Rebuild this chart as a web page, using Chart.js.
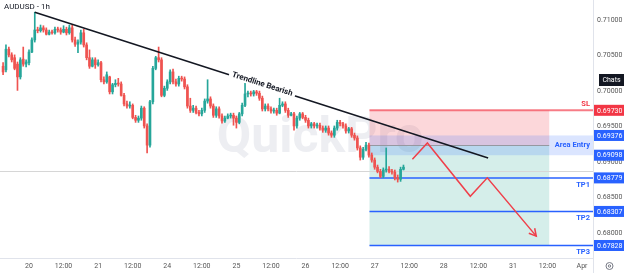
<!DOCTYPE html>
<html>
<head>
<meta charset="utf-8">
<script src="https://cdn.jsdelivr.net/npm/chart.js@4.4.1/dist/chart.umd.min.js"></script>
<style>
  html, body { margin: 0; padding: 0; background: #fff; overflow: hidden; }
  #wrap { width: 624px; height: 273px; }
</style>
</head>
<body>
<div id="wrap"><canvas id="c" width="624" height="273"></canvas></div>
<script>
// hourly candles, first one is 19th 15:00 (hour -9 from the 20th 00:00, weekend removed)
var firstHour = -9;
var opens = [
  0.7035,0.7030,0.7059,0.7051,0.7047,0.7038,0.7020,0.7045,0.7038,
  0.7040,0.7055,0.7072,0.7086,0.7085,0.7089,0.7086,0.7080,0.7083,0.7082,
  0.7087,0.7086,0.7083,0.7087,0.7082,0.7089,0.7072,0.7066,0.7069,0.7082,
  0.7065,0.7047,0.7035,0.7044,0.7037,0.7040,0.7016,0.7013,0.7020,0.6999,
  0.7009,0.7011,0.7010,0.6994,0.6982,0.6979,0.6980,0.6963,0.6959,0.6962,
  0.6976,0.6951,0.6924,0.6985,0.7032,0.7047,0.7044,0.6994,0.7004,0.7013,
  0.7027,0.7013,0.7010,0.7018,0.7017,0.7006,0.6979,0.6973,0.6976,0.6970,
  0.6968,0.6973,0.6986,0.6989,0.6979,0.6966,0.6975,0.6965,0.6958,0.6962,
  0.6965,0.6966,0.6962,0.6956,0.6968,0.6980,0.6996,0.6997,0.6996,0.6999,
  0.6997,0.6990,0.6975,0.6979,0.6975,0.6972,0.6973,0.6969,0.6980,0.6982,
  0.6973,0.6966,0.6968,0.6951,0.6962,0.6968,0.6963,0.6959,0.6951,0.6954,
  0.6951,0.6952,0.6948,0.6945,0.6948,0.6941,0.6938,0.6948,0.6956,0.6954,
  0.6951,0.6944,0.6947,0.6938,0.6934,0.6920,0.6907,0.6918,0.6924,0.6910,
  0.6903,0.6893,0.6887,0.6880,0.6889,0.6890,0.6887,0.6886,0.6878,0.6876,0.6890
];
var highs = [
  0.7040,0.7065,0.7062,0.7054,0.7051,0.7041,0.7047,0.7062,0.7044,
  0.7058,0.7075,0.7111,0.7090,0.7093,0.7092,0.7089,0.7086,0.7086,0.7090,
  0.7090,0.7089,0.7092,0.7090,0.7093,0.7093,0.7076,0.7072,0.7086,0.7087,
  0.7068,0.7058,0.7047,0.7047,0.7044,0.7042,0.7020,0.7027,0.7021,0.7011,
  0.7016,0.7018,0.7013,0.6997,0.6986,0.6985,0.6982,0.6966,0.6965,0.6979,
  0.6978,0.6954,0.6987,0.7035,0.7049,0.7062,0.7047,0.7007,0.7016,0.7030,
  0.7031,0.7017,0.7021,0.7021,0.7020,0.7009,0.6990,0.6980,0.6979,0.6973,
  0.6976,0.6989,0.7016,0.6992,0.6982,0.6978,0.6978,0.6968,0.6965,0.6968,
  0.6969,0.6969,0.6965,0.6970,0.6983,0.7011,0.7000,0.7000,0.7001,0.7001,
  0.7000,0.6993,0.6982,0.6982,0.6978,0.6976,0.6976,0.6990,0.6985,0.6985,
  0.6976,0.6970,0.6970,0.6965,0.6970,0.6970,0.6966,0.6962,0.6956,0.6956,
  0.6955,0.6955,0.6951,0.6951,0.6951,0.6944,0.6951,0.6959,0.6959,0.6956,
  0.6954,0.6949,0.6949,0.6941,0.6937,0.6923,0.6921,0.6928,0.6927,0.6913,
  0.6906,0.6896,0.6890,0.6892,0.6920,0.6894,0.6890,0.6889,0.6882,0.6893,0.6896
];
var lows = [
  0.7023,0.7027,0.7048,0.7041,0.7030,0.7001,0.7017,0.7035,0.7034,
  0.7037,0.7054,0.7069,0.7082,0.7083,0.7083,0.7079,0.7079,0.7080,0.7080,
  0.7083,0.7080,0.7082,0.7079,0.7080,0.7069,0.7063,0.7054,0.7066,0.7062,
  0.7044,0.7032,0.7034,0.7032,0.7035,0.7013,0.7010,0.7011,0.6996,0.6996,
  0.7006,0.7007,0.6993,0.6979,0.6976,0.6976,0.6961,0.6956,0.6956,0.6959,
  0.6948,0.6913,0.6921,0.6982,0.7030,0.7041,0.6992,0.6992,0.7001,0.7010,
  0.7010,0.7007,0.7007,0.7014,0.7003,0.6976,0.6970,0.6970,0.6968,0.6965,
  0.6965,0.6970,0.6983,0.6976,0.6963,0.6963,0.6962,0.6955,0.6956,0.6961,
  0.6962,0.6952,0.6948,0.6954,0.6965,0.6978,0.6992,0.6993,0.6993,0.6994,
  0.6987,0.6972,0.6972,0.6972,0.6969,0.6969,0.6966,0.6968,0.6978,0.6970,
  0.6963,0.6965,0.6945,0.6948,0.6959,0.6961,0.6956,0.6948,0.6948,0.6948,
  0.6948,0.6945,0.6942,0.6942,0.6938,0.6935,0.6935,0.6945,0.6951,0.6948,
  0.6941,0.6941,0.6935,0.6931,0.6917,0.6903,0.6904,0.6916,0.6907,0.6900,
  0.6890,0.6885,0.6878,0.6878,0.6886,0.6885,0.6883,0.6875,0.6872,0.6873,0.6889
];
var closes = [
  0.7027,0.7059,0.7051,0.7044,0.7032,0.7020,0.7044,0.7038,0.7041,
  0.7055,0.7072,0.7086,0.7085,0.7089,0.7086,0.7080,0.7083,0.7082,0.7087,
  0.7086,0.7083,0.7087,0.7082,0.7089,0.7072,0.7066,0.7069,0.7082,0.7065,
  0.7047,0.7035,0.7044,0.7037,0.7040,0.7016,0.7013,0.7023,0.6999,0.7009,
  0.7011,0.7010,0.6994,0.6982,0.6979,0.6980,0.6963,0.6959,0.6962,0.6976,
  0.6951,0.6924,0.6985,0.7032,0.7047,0.7044,0.6994,0.7004,0.7013,0.7027,
  0.7013,0.7010,0.7018,0.7017,0.7006,0.6979,0.6973,0.6976,0.6970,0.6968,
  0.6973,0.6986,0.6989,0.6979,0.6966,0.6975,0.6965,0.6958,0.6962,0.6965,
  0.6966,0.6962,0.6956,0.6968,0.6980,0.6996,0.6997,0.6996,0.6999,0.6997,
  0.6990,0.6975,0.6979,0.6975,0.6972,0.6973,0.6969,0.6980,0.6982,0.6973,
  0.6966,0.6968,0.6951,0.6962,0.6968,0.6963,0.6959,0.6951,0.6954,0.6951,
  0.6952,0.6948,0.6945,0.6948,0.6941,0.6938,0.6948,0.6956,0.6954,0.6951,
  0.6944,0.6947,0.6938,0.6934,0.6920,0.6907,0.6918,0.6924,0.6910,0.6903,
  0.6893,0.6887,0.6880,0.6889,0.6890,0.6887,0.6886,0.6878,0.6876,0.6890,0.6893
];

// x axis labels every 12 hours
var tickLabels = ['20','12:00','21','12:00','24','12:00','25','12:00','26','12:00','27','12:00','28','12:00','31','12:00','Apr'];

// drawings
var trendX = [2, 159.4];
var trendY = [0.7111, 0.6906];
var pathX = [133.1, 138.3, 153.2, 159.1, 176.1];
var pathY = [0.6904, 0.6927, 0.6852, 0.6878, 0.6796];

var SL = 0.69730;
var ENTRY = 0.6924;
var AREA_TOP = 0.69376;
var AREA_BOTTOM = 0.69098;
var TPS = [0.68779, 0.68307, 0.67828];
var PRICE_LINE = 0.68874;
var ZONE_START = 118.2;
var ZONE_END = 180.6;

var UP = '#26a69a', DOWN = '#ef5350';
var FONT = 'Roboto, "Liberation Sans", sans-serif';

var wicks = [], bodies = [], colors = [];
for (var k = 0; k < closes.length; k++) {
  wicks.push({ x: firstHour + k, y: [lows[k], highs[k]] });
  bodies.push({ x: firstHour + k, y: [opens[k], closes[k]] });
  colors.push(closes[k] >= opens[k] ? UP : DOWN);
}

function pts(xa, ya) {
  return xa.map(function (v, i) { return { x: v, y: ya[i] }; });
}

function noPad(s) {
  s.paddingTop = 0; s.paddingBottom = 0; s.paddingLeft = 0; s.paddingRight = 0;
}

var overlay = {
  id: 'overlay',
  beforeDatasetsDraw: function (chart) {
    var ctx = chart.ctx, xs = chart.scales.x, ys = chart.scales.y, a = chart.chartArea;
    ctx.save();
    // watermark
    ctx.font = 'bold 50px ' + FONT;
    ctx.fillStyle = 'rgba(190,195,210,0.28)';
    ctx.textAlign = 'center';
    ctx.textBaseline = 'middle';
    ctx.fillText('QuickPro', 320, 139);

    var x0 = xs.getPixelForValue(ZONE_START), x1 = xs.getPixelForValue(ZONE_END);
    var ySL = ys.getPixelForValue(SL), yE = ys.getPixelForValue(ENTRY);
    var yT3 = ys.getPixelForValue(TPS[2]);
    ctx.fillStyle = 'rgba(242,54,69,0.2)';
    ctx.fillRect(x0, ySL, x1 - x0, yE - ySL);
    ctx.fillStyle = 'rgba(8,153,129,0.17)';
    ctx.fillRect(x0, yE, x1 - x0, yT3 - yE);
    var yAT = ys.getPixelForValue(AREA_TOP), yAB = ys.getPixelForValue(AREA_BOTTOM);
    ctx.fillStyle = 'rgba(41,98,255,0.17)';
    ctx.fillRect(x0, yAT, a.right - x0, yAB - yAT);

    // current price line
    var yP = Math.round(ys.getPixelForValue(PRICE_LINE)) + 0.5;
    ctx.strokeStyle = '#d6d6d6';
    ctx.lineWidth = 1;
    ctx.beginPath(); ctx.moveTo(a.left, yP); ctx.lineTo(a.right, yP); ctx.stroke();

    // entry line
    ctx.strokeStyle = '#9598a1';
    ctx.beginPath(); ctx.moveTo(x0, Math.round(yE) + 0.5); ctx.lineTo(x1, Math.round(yE) + 0.5); ctx.stroke();

    // SL and TP lines
    ctx.strokeStyle = 'rgba(242,54,69,0.65)';
    ctx.lineWidth = 2;
    ctx.beginPath(); ctx.moveTo(x0, ySL); ctx.lineTo(a.right, ySL); ctx.stroke();
    ctx.strokeStyle = '#2962ff';
    ctx.lineWidth = 1.5;
    TPS.forEach(function (v) {
      var y = ys.getPixelForValue(v);
      ctx.beginPath(); ctx.moveTo(x0, y); ctx.lineTo(a.right, y); ctx.stroke();
    });
    ctx.restore();
  },
  afterDatasetsDraw: function (chart) {
    var ctx = chart.ctx, xs = chart.scales.x, ys = chart.scales.y;
    ctx.save();
    // trendline label
    var p0x = xs.getPixelForValue(trendX[0]), p0y = ys.getPixelForValue(trendY[0]);
    var p1x = xs.getPixelForValue(trendX[1]), p1y = ys.getPixelForValue(trendY[1]);
    var ang = Math.atan2(p1y - p0y, p1x - p0x);
    var t = (262 - p0x) / (p1x - p0x);
    ctx.translate(262, p0y + t * (p1y - p0y));
    ctx.rotate(ang);
    ctx.font = 'bold 8px ' + FONT;
    var w = ctx.measureText('Trendline Bearish').width;
    ctx.fillStyle = '#fff';
    ctx.fillRect(-w / 2 - 3, -3, w + 6, 6);
    ctx.fillStyle = '#131722';
    ctx.textAlign = 'center';
    ctx.textBaseline = 'bottom';
    ctx.fillText('Trendline Bearish', 0, 3);
    ctx.restore();

    // arrow head at the end of the projected path
    ctx.save();
    var n = pathX.length;
    var ex = xs.getPixelForValue(pathX[n - 1]), ey = ys.getPixelForValue(pathY[n - 1]);
    var bx = xs.getPixelForValue(pathX[n - 2]), by = ys.getPixelForValue(pathY[n - 2]);
    var aa = Math.atan2(ey - by, ex - bx);
    ctx.strokeStyle = '#ef3f4a';
    ctx.lineWidth = 1.5;
    ctx.beginPath();
    ctx.moveTo(ex - 8 * Math.cos(aa - 0.5), ey - 8 * Math.sin(aa - 0.5));
    ctx.lineTo(ex, ey);
    ctx.lineTo(ex - 8 * Math.cos(aa + 0.5), ey - 8 * Math.sin(aa + 0.5));
    ctx.stroke();
    ctx.restore();
  },
  afterDraw: function (chart) {
    var ctx = chart.ctx, ys = chart.scales.y, a = chart.chartArea;
    ctx.save();
    // axis separators
    ctx.strokeStyle = '#e0e3eb';
    ctx.lineWidth = 1;
    ctx.beginPath();
    ctx.moveTo(a.right + 0.5, 0); ctx.lineTo(a.right + 0.5, chart.height);
    ctx.moveTo(0, a.bottom + 0.5); ctx.lineTo(a.right, a.bottom + 0.5);
    ctx.stroke();

    // labels of the position tool
    ctx.font = 'bold 7.5px ' + FONT;
    ctx.textAlign = 'right';
    ctx.textBaseline = 'middle';
    ctx.fillStyle = '#f23645';
    ctx.fillText('SL', a.right - 3, ys.getPixelForValue(SL) - 6);
    ctx.fillStyle = '#2962ff';
    ctx.fillText('Area Entry', a.right - 3, (ys.getPixelForValue(AREA_TOP) + ys.getPixelForValue(AREA_BOTTOM)) / 2);
    TPS.forEach(function (v, i) {
      ctx.fillText('TP' + (i + 1), a.right - 3, ys.getPixelForValue(v) + 7);
    });

    // price badges
    function badge(v, bg) {
      var y = ys.getPixelForValue(v);
      ctx.fillStyle = bg;
      ctx.fillRect(a.right + 1, y - 5.5, chart.width - a.right - 1, 11);
      ctx.fillStyle = '#fff';
      ctx.font = '7px ' + FONT;
      ctx.textAlign = 'left';
      ctx.textBaseline = 'middle';
      ctx.fillText(v.toFixed(5), a.right + 4, y + 0.5);
    }
    badge(SL, '#f23645');
    badge(AREA_TOP, '#2962ff');
    badge(AREA_BOTTOM, '#2962ff');
    TPS.forEach(function (v) { badge(v, '#2962ff'); });

    // "Chats" tag
    ctx.fillStyle = '#131722';
    ctx.fillRect(a.right + 6, 74, chart.width - a.right - 6, 12);
    ctx.fillStyle = '#fff';
    ctx.font = '7px ' + FONT;
    ctx.textAlign = 'center';
    ctx.fillText('Chats', a.right + 6 + (chart.width - a.right - 6) / 2, 80.5);

    // title
    ctx.fillStyle = '#131722';
    ctx.font = '8px ' + FONT;
    ctx.textAlign = 'left';
    ctx.fillText('AUDUSD - 1h', 4, 7);

    // settings icon
    ctx.strokeStyle = '#787b86';
    ctx.lineWidth = 1;
    ctx.beginPath(); ctx.arc(609.5, 266, 3.5, 0, Math.PI * 2); ctx.stroke();
    ctx.beginPath(); ctx.arc(609.5, 266, 1.2, 0, Math.PI * 2); ctx.stroke();
    ctx.restore();
  }
};

new Chart(document.getElementById('c'), {
  data: {
    datasets: [
      {
        type: 'bar', data: wicks, backgroundColor: colors, barThickness: 1,
        grouped: false, order: 3
      },
      {
        type: 'bar', data: bodies, backgroundColor: colors, barThickness: 2,
        grouped: false, minBarLength: 1, order: 2
      },
      {
        type: 'line', data: pts(trendX, trendY), borderColor: '#131722',
        borderWidth: 1.5, pointRadius: 0, order: 1
      },
      {
        type: 'line', data: pts(pathX, pathY), borderColor: '#ef3f4a',
        borderWidth: 1.5, pointRadius: 0, order: 0
      }
    ]
  },
  options: {
    responsive: false,
    animation: false,
    devicePixelRatio: 1,
    layout: { padding: 0 },
    plugins: { legend: { display: false }, tooltip: { enabled: false } },
    scales: {
      x: {
        type: 'linear', min: -10.07, max: 195.8, offset: false,
        grid: { display: false, drawTicks: false }, border: { display: false },
        afterFit: function (s) { s.height = 15; noPad(s); },
        ticks: {
          stepSize: 12, includeBounds: false, autoSkip: false, maxRotation: 0,
          padding: 4, color: '#555', font: { size: 7, family: FONT },
          callback: function (v) { return tickLabels[Math.round(v / 12)]; }
        }
      },
      y: {
        position: 'right', min: 0.67652, max: 0.71282,
        grid: { display: false, drawTicks: false }, border: { display: false },
        afterFit: function (s) { s.width = 31; noPad(s); },
        ticks: {
          stepSize: 0.005, includeBounds: false, padding: 4,
          color: '#555', font: { size: 7, family: FONT },
          callback: function (v) { return v.toFixed(5); }
        }
      }
    }
  },
  plugins: [overlay]
});
</script>
</body>
</html>
